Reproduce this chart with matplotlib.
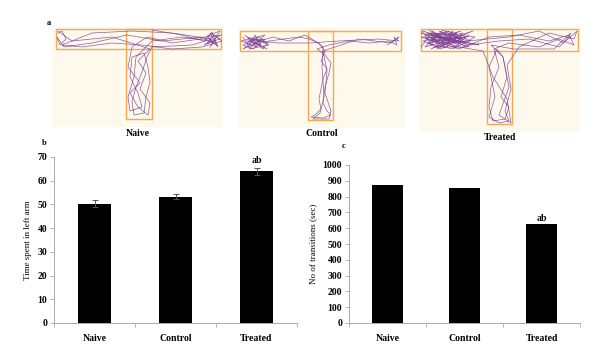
import numpy as np
import matplotlib.pyplot as plt
from matplotlib.patches import Rectangle

# ---- data ----
groups = ['Naive', 'Control', 'Treated']
time_left_arm = [50.3, 53.3, 64.0]
time_left_err = [1.5, 0.9, 1.4]
transitions = [875, 855, 625]
sig_label = 'ab'

# rough hand-traced track waypoints (image pixel coords, y down)
track_naive = [(6, 6), (10, 4), (14, 12), (8, 18), (5, 10), (12, 20), (40, 16), (75, 8), (110, 14),
               (150, 10), (165, 18), (158, 6), (168, 12), (155, 16), (162, 8), (170, 14), (150, 20),
               (120, 22), (90, 18), (60, 16), (30, 20), (10, 18), (40, 6), (80, 4), (120, 6), (160, 12),
               (140, 18), (100, 20), (95, 30), (90, 45), (84, 60), (80, 75), (82, 88), (92, 86), (94, 70),
               (98, 55), (96, 40), (92, 26), (80, 30), (78, 50), (86, 66), (90, 80), (78, 84), (76, 70),
               (82, 50), (84, 30), (100, 14), (130, 10), (160, 14)]
track_naive_2 = [(100, 3), (130, 8), (152, 14), (160, 5), (166, 20), (156, 10), (169, 8), (152, 18),
                 (163, 14), (158, 20), (168, 4), (148, 12), (120, 16), (95, 10), (80, 20), (76, 40),
                 (88, 56), (78, 66), (86, 80), (96, 88), (98, 76), (88, 62), (94, 46), (86, 34),
                 (98, 22), (60, 10), (20, 14), (6, 4)]
track_control = [(4, 10), (10, 20), (16, 8), (22, 18), (8, 14), (26, 12), (14, 22), (4, 18), (20, 10),
                 (28, 16), (12, 12), (24, 22), (30, 14), (45, 12), (60, 10), (70, 12), (80, 16), (86, 24),
                 (82, 34), (88, 42), (84, 52), (82, 62), (80, 72), (82, 82), (76, 88), (72, 90), (84, 91),
                 (92, 88), (88, 84), (84, 76), (86, 60), (90, 46), (92, 36), (86, 28), (78, 22), (90, 18),
                 (110, 14), (130, 16), (150, 14), (158, 18), (155, 10), (160, 14), (140, 12), (100, 14),
                 (70, 16), (40, 16), (20, 14)]
track_control_2 = [(6, 8), (18, 20), (2, 14), (26, 8), (10, 22), (30, 18), (16, 12), (4, 22), (22, 14),
                   (8, 10), (28, 22), (14, 16), (34, 10), (50, 14), (66, 8), (76, 14), (84, 20),
                   (83, 40), (85, 70), (81, 86), (74, 92), (90, 92), (92, 84), (86, 66), (88, 44),
                   (84, 24), (120, 12), (152, 16), (160, 10), (148, 18)]
track_treated = [(3, 4), (12, 18), (20, 6), (8, 12), (28, 20), (34, 4), (18, 14), (40, 10), (6, 20), (24, 3),
                 (46, 16), (14, 8), (30, 14), (10, 3), (36, 20), (50, 8), (22, 22), (4, 14), (42, 4), (26, 10),
                 (48, 20), (16, 20), (38, 14), (8, 6), (32, 8), (44, 12), (2, 10), (20, 16), (52, 14), (28, 4),
                 (12, 12), (40, 22), (70, 10), (100, 8), (130, 14), (150, 8), (155, 18), (140, 12), (120, 20),
                 (90, 16), (75, 22), (80, 40), (72, 60), (70, 80), (74, 94), (86, 92), (90, 80), (82, 70),
                 (88, 50), (84, 30), (78, 22), (70, 40), (76, 70), (70, 90), (80, 96), (90, 94), (86, 84),
                 (92, 62), (88, 38), (100, 20), (130, 6), (155, 12), (158, 4), (140, 20), (110, 12), (80, 14),
                 (50, 18), (30, 10), (10, 16)]
track_treated_2 = [(2, 20), (14, 4), (26, 18), (6, 8), (36, 12), (18, 22), (44, 6), (10, 14), (30, 4),
                   (50, 20), (22, 10), (4, 4), (40, 18), (16, 6), (56, 10), (34, 22), (8, 16), (46, 10),
                   (24, 14), (54, 4), (12, 22), (38, 6), (28, 12), (60, 18), (2, 6), (42, 16), (20, 4),
                   (48, 14), (90, 10), (120, 4), (145, 16), (152, 6), (135, 22), (95, 22), (72, 18),
                   (84, 30), (90, 60), (80, 88), (92, 96), (88, 72), (74, 50), (64, 24), (40, 20), (10, 10)]

# image boxes: (left, top, width, height) in fig px, T bar (x0,x1,y0,y1), stem (x0,x1,y1)
mazes = [
    ('Naive', (52, 27, 171, 100), (4, 169, 2, 22), (74, 100, 92), [track_naive, track_naive_2]),
    ('Control', (239, 27, 166, 101), (1, 162, 4, 24), (69, 94, 93), [track_control, track_control_2]),
    ('Treated', (419, 27, 161, 104), (2, 159, 2, 24), (68, 93, 97), [track_treated, track_treated_2]),
]

W, H = 607, 360
plt.rcParams['font.family'] = ['Liberation Serif', 'DejaVu Serif']
fig = plt.figure(figsize=(W / 100, H / 100), dpi=100)

def px_axes(left, top, width, height):
    return fig.add_axes([left / W, 1 - (top + height) / H, width / W, height / H])

# ---- panel a: maze tracks ----
for name, (l, t, w, h), bar, stem, trks in mazes:
    ax = px_axes(l, t, w, h)
    ax.set_xlim(0, w)
    ax.set_ylim(h, 0)
    ax.set_facecolor('#fdf9ec')
    for s in ax.spines.values():
        s.set_visible(False)
    ax.set_xticks([])
    ax.set_yticks([])
    for trk in trks:
        xs, ys = zip(*trk)
        ax.plot(xs, ys, color='#7e3f94', lw=0.5, alpha=0.85)
    ax.add_patch(Rectangle((bar[0], bar[2]), bar[1] - bar[0], bar[3] - bar[2],
                           fill=False, ec='#f7a852', lw=1.0))
    ax.add_patch(Rectangle((stem[0], bar[2]), stem[1] - stem[0], stem[2] - bar[2],
                           fill=False, ec='#f7a852', lw=1.0))
    fig.text((l + w / 2) / W, 1 - (t + h + 6) / H, name, ha='center', va='center',
             fontsize=7, fontweight='bold')

fig.text(47 / W, 1 - 23 / H, 'a', fontsize=6, fontweight='bold', va='center')
fig.text(42 / W, 1 - 143 / H, 'b', fontsize=6, fontweight='bold', va='center')
fig.text(342 / W, 1 - 146 / H, 'c', fontsize=6, fontweight='bold', va='center')

def style_bar_axes(ax, ymax, step):
    x = np.arange(len(groups))
    ax.set_xlim(-0.5, len(groups) - 0.5)
    ax.set_ylim(0, ymax)
    ax.set_yticks(np.arange(0, ymax + 1, step))
    ax.set_xticks(x)
    ax.set_xticklabels(groups, fontsize=7, fontweight='bold')
    ax.set_xticks(np.arange(-0.5, len(groups)), minor=True)
    ax.tick_params(axis='x', which='major', length=0, pad=8)
    ax.tick_params(axis='x', which='minor', length=3, color='#aaaaaa', width=0.6)
    ax.tick_params(axis='y', length=3, color='#aaaaaa', width=0.6, labelsize=7, pad=2)
    for lab in ax.get_yticklabels():
        lab.set_fontweight('bold')
    for s in ['top', 'right']:
        ax.spines[s].set_visible(False)
    for s in ['left', 'bottom']:
        ax.spines[s].set_color('#aaaaaa')
        ax.spines[s].set_linewidth(0.7)
    return x

# ---- panel b ----
axb = px_axes(54, 157, 243, 166)
x = style_bar_axes(axb, 70, 10)
axb.bar(x, time_left_arm, width=0.4, color='black', yerr=time_left_err,
        error_kw=dict(ecolor='#555555', elinewidth=0.7, capsize=2, capthick=0.7))
axb.text(2, time_left_arm[2] + time_left_err[2] + 1.2, sig_label, ha='center', va='bottom',
         fontsize=7, fontweight='bold')
axb.set_ylabel('Time spent in left arm', fontsize=6.5, labelpad=4)

# ---- panel c ----
axc = px_axes(349, 165, 231, 158)
x = style_bar_axes(axc, 1000, 100)
axc.bar(x, transitions, width=0.39, color='black')
axc.text(2, transitions[2] + 5, sig_label, ha='center', va='bottom', fontsize=7, fontweight='bold')
axc.set_ylabel('No of transitions (sec)', fontsize=6.5, labelpad=4)

fig.savefig('out.png', dpi=100)
